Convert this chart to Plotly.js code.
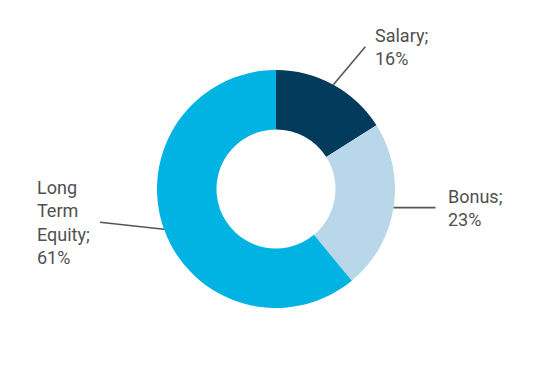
<!DOCTYPE html>
<html>
<head>
<meta charset="utf-8">
<script src="https://cdn.plot.ly/plotly-3.0.1.min.js"></script>
<style>html,body{margin:0;padding:0;background:#fff;}#chart{width:550px;height:380px;}</style>
</head>
<body>
<div id="chart"></div>
<script>
// Data
const categories = ["Salary", "Bonus", "Long Term Equity"];
const labelTexts = ["Salary;<br>16%", "Bonus;<br>23%", "Long<br>Term<br>Equity;<br>61%"];
const values = [16, 23, 61];
const colors = ["#023B5B", "#B8D8EA", "#00B3E2"];

// Geometry (pixels)
const W = 550, H = 380;
const cx = 276, cy = 189, R = 119;
// leader line offsets (px) from the slice's outer edge midpoint and text gap
const lineOffsets = [[32, -38], [42, 0], [-64, -7]];
const textGap = [8, 10, -8];

const px = x => x / W;
const py = y => 1 - y / H;

const total = values.reduce((a, b) => a + b, 0);
let cum = 0;
const shapes = [], annotations = [];
values.forEach((v, i) => {
  const mid = (cum + v / 2) / total * 2 * Math.PI;
  cum += v;
  const x0 = cx + R * Math.sin(mid);
  const y0 = cy - R * Math.cos(mid);
  const x1 = x0 + lineOffsets[i][0];
  const y1 = y0 + lineOffsets[i][1];
  shapes.push({type: "line", xref: "paper", yref: "paper",
    x0: px(x0), y0: py(y0), x1: px(x1), y1: py(y1),
    line: {color: "#555555", width: 1.6}});
  annotations.push({xref: "paper", yref: "paper",
    x: px(x1 + textGap[i]), y: py(y1),
    xanchor: textGap[i] > 0 ? "left" : "right", yanchor: "middle",
    align: "left", showarrow: false, text: labelTexts[i],
    font: {family: "Roboto, sans-serif", size: 18, color: "#505050"}});
});

const trace = {
  type: "pie",
  labels: categories,
  values: values,
  marker: {colors: colors, line: {width: 0}},
  hole: 0.5,
  sort: false,
  direction: "clockwise",
  rotation: 0,
  textinfo: "none",
  hoverinfo: "none",
  showlegend: false,
  domain: {x: [px(cx - R), px(cx + R)], y: [py(cy + R), py(cy - R)]}
};

const layout = {
  width: W, height: H,
  margin: {l: 0, r: 0, t: 0, b: 0},
  paper_bgcolor: "#ffffff",
  showlegend: false,
  shapes: shapes,
  annotations: annotations
};

Plotly.newPlot("chart", [trace], layout, {staticPlot: true, displayModeBar: false});
</script>
</body>
</html>
